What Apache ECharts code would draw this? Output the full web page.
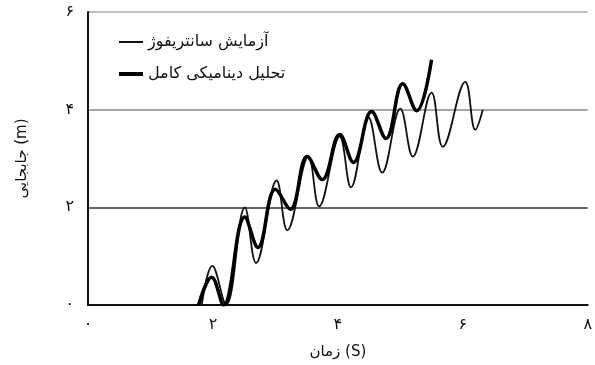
<!DOCTYPE html>
<html>
<head>
<meta charset="utf-8">
<title>زمان - جابجایی</title>
<script src="https://cdn.jsdelivr.net/npm/echarts@6/dist/echarts.min.js"></script>
<style>
    html, body {margin: 0; padding: 0; background: #fff;}
    #chart {width: 595px; height: 365px;}
</style>
</head>
<body>
<div id="chart"></div>
<script>
//数据
var xTicks = ['۰', '۲', '۴', '۶', '۸'];
var yTicks = ['۰', '۲', '۴', '۶'];
var seriesNames = ['آزمایش سانتریفوژ', 'تحلیل دینامیکی کامل'];
//آزمایش سانتریفوژ [t, d]
var testT = [1.82, 1.99, 2.21, 2.51, 2.69, 3.02, 3.19, 3.53, 3.70, 4.03, 4.21, 4.49, 4.71, 5.00, 5.20, 5.50, 5.68, 6.04, 6.20, 6.32];
var testD = [0, 0.80, 0, 2.0, 0.86, 2.55, 1.53, 3.04, 2.02, 3.45, 2.41, 3.84, 2.71, 4.02, 3.04, 4.35, 3.24, 4.57, 3.59, 4.0];
//تحلیل دینامیکی کامل
var fullT = [1.77, 1.98, 2.17, 2.51, 2.72, 3.00, 3.24, 3.51, 3.75, 4.03, 4.25, 4.54, 4.77, 5.04, 5.26, 5.50];
var fullD = [0, 0.57, 0, 1.80, 1.18, 2.37, 1.96, 3.04, 2.57, 3.49, 2.92, 3.96, 3.41, 4.53, 3.98, 5.02];

function pairs(xs, ys) {
    var res = [];
    for (var i = 0; i < xs.length; i++) {
        res.push([xs[i], ys[i]]);
    }
    return res;
}

var font = 'DejaVu Sans, sans-serif';
var chart = echarts.init(document.getElementById('chart'));
var option = {
    animation: false,
    backgroundColor: '#fff',
    grid: {left: 88, right: 1, top: 12, bottom: 59},
    legend: {
        orient: 'vertical',
        left: 114,
        top: 29,
        itemGap: 16,
        itemWidth: 24,
        itemHeight: 18,
        symbolKeepAspect: true,
        textStyle: {fontFamily: font, fontSize: 16, color: '#111'},
        data: [
            {name: seriesNames[0], icon: 'path://M0,0L24,0L24,2L0,2Z'},
            {name: seriesNames[1], icon: 'path://M0,0L24,0L24,4L0,4Z'}
        ]
    },
    xAxis: {
        type: 'value',
        min: 0,
        max: 8,
        interval: 2,
        name: 'زمان (S)',
        nameLocation: 'middle',
        nameGap: 40,
        nameTextStyle: {fontFamily: font, fontSize: 15, color: '#111'},
        axisLine: {onZero: false, lineStyle: {color: '#111', width: 2}},
        axisTick: {show: false},
        splitLine: {show: false},
        axisLabel: {
            margin: 12,
            fontFamily: font, fontSize: 16, color: '#111',
            formatter: function (v) { return xTicks[v / 2]; }
        }
    },
    yAxis: {
        type: 'value',
        min: 0,
        max: 6,
        interval: 2,
        name: 'جابجایی (m)',
        nameLocation: 'middle',
        nameGap: 58,
        nameTextStyle: {fontFamily: font, fontSize: 15, color: '#111'},
        axisLine: {show: true, lineStyle: {color: '#111', width: 2}},
        axisTick: {show: false},
        splitLine: {
            show: true,
            lineStyle: {color: ['#111', '#333', '#888', '#aaa'], width: 1.5}
        },
        axisLabel: {
            margin: 14,
            fontFamily: font, fontSize: 16, color: '#111',
            formatter: function (v) { return yTicks[v / 2]; }
        }
    },
    series: [
        {
            name: seriesNames[0],
            type: 'line',
            smooth: 0.4,
            symbol: 'none',
            lineStyle: {color: '#111', width: 1.8},
            itemStyle: {color: '#111'},
            data: pairs(testT, testD)
        },
        {
            name: seriesNames[1],
            type: 'line',
            smooth: 0.4,
            symbol: 'none',
            lineStyle: {color: '#000', width: 3.5},
            itemStyle: {color: '#000'},
            data: pairs(fullT, fullD)
        }
    ]
};
chart.setOption(option);
</script>
</body>
</html>
